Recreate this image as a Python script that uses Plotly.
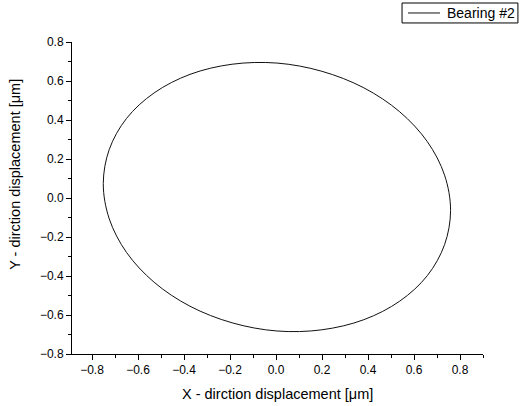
import plotly.graph_objects as go

# Orbit of bearing #2, closed loop
x_disp = [0.759, 0.733, 0.658, 0.538, 0.382, 0.199, 0.004, -0.191, -0.374, -0.530,
          -0.650, -0.725, -0.751, -0.725, -0.650, -0.530, -0.374, -0.191, 0.004, 0.199,
          0.382, 0.538, 0.658, 0.733, 0.759]
y_disp = [-0.064, 0.117, 0.289, 0.442, 0.565, 0.650, 0.692, 0.686, 0.634, 0.539,
          0.408, 0.249, 0.074, -0.107, -0.279, -0.432, -0.555, -0.640, -0.682, -0.676,
          -0.624, -0.529, -0.398, -0.239, -0.064]

series_name = "Bearing #2"
x_title = "X - dirction displacement [μm]"
y_title = "Y - dirction displacement [μm]"
x_ticks = [-0.8, -0.6, -0.4, -0.2, 0.0, 0.2, 0.4, 0.6, 0.8]
y_ticks = [-0.8, -0.6, -0.4, -0.2, 0.0, 0.2, 0.4, 0.6, 0.8]

FONT = "Liberation Sans, Arial, sans-serif"
LINE_COLOR = "#111111"

fig = go.Figure()
fig.add_trace(go.Scatter(
    x=x_disp, y=y_disp, mode="lines", name=series_name,
    line=dict(color=LINE_COLOR, width=1, shape="spline", smoothing=1.0),
    showlegend=False,
))

axis_common = dict(
    showgrid=False, zeroline=False, showline=True, linecolor="black", linewidth=1,
    ticks="outside", ticklen=5, tickwidth=1, tickcolor="black",
    tickfont=dict(family=FONT, size=12, color="black"),
    tickformat=".1f",
    minor=dict(ticks="outside", ticklen=3, tickwidth=1, tickcolor="black", dtick=0.1, showgrid=False),
)

fig.update_xaxes(range=[-0.887, 0.9], tickmode="array", tickvals=x_ticks, **axis_common)
fig.update_yaxes(range=[-0.8, 0.8], tickmode="array", tickvals=y_ticks, **axis_common)

fig.add_annotation(text=x_title, xref="paper", yref="paper", x=0.5, y=-0.095,
                   xanchor="center", yanchor="top", showarrow=False,
                   font=dict(family=FONT, size=14.5, color="black"))
fig.add_annotation(text=y_title, xref="paper", yref="paper", x=-0.139, y=0.577,
                   xanchor="center", yanchor="middle", textangle=-90, showarrow=False,
                   font=dict(family=FONT, size=14.5, color="black"))

# legend box (drawn in paper coordinates)
fig.add_shape(type="rect", xref="paper", yref="paper", x0=0.803, x1=1.085, y0=1.061, y1=1.125,
              line=dict(color="black", width=1), fillcolor="white", layer="above")
fig.add_shape(type="line", xref="paper", yref="paper", x0=0.8175, x1=0.8954, y0=1.093, y1=1.093,
              line=dict(color=LINE_COLOR, width=1))
fig.add_annotation(text=series_name, xref="paper", yref="paper", x=0.907, y=1.093,
                   xanchor="left", yanchor="middle", showarrow=False,
                   font=dict(family=FONT, size=14, color="black"))

fig.update_layout(
    width=523, height=406,
    margin=dict(l=72, r=40, t=42, b=52),
    paper_bgcolor="white", plot_bgcolor="white",
    showlegend=False,
)

fig.write_html("out.html")
